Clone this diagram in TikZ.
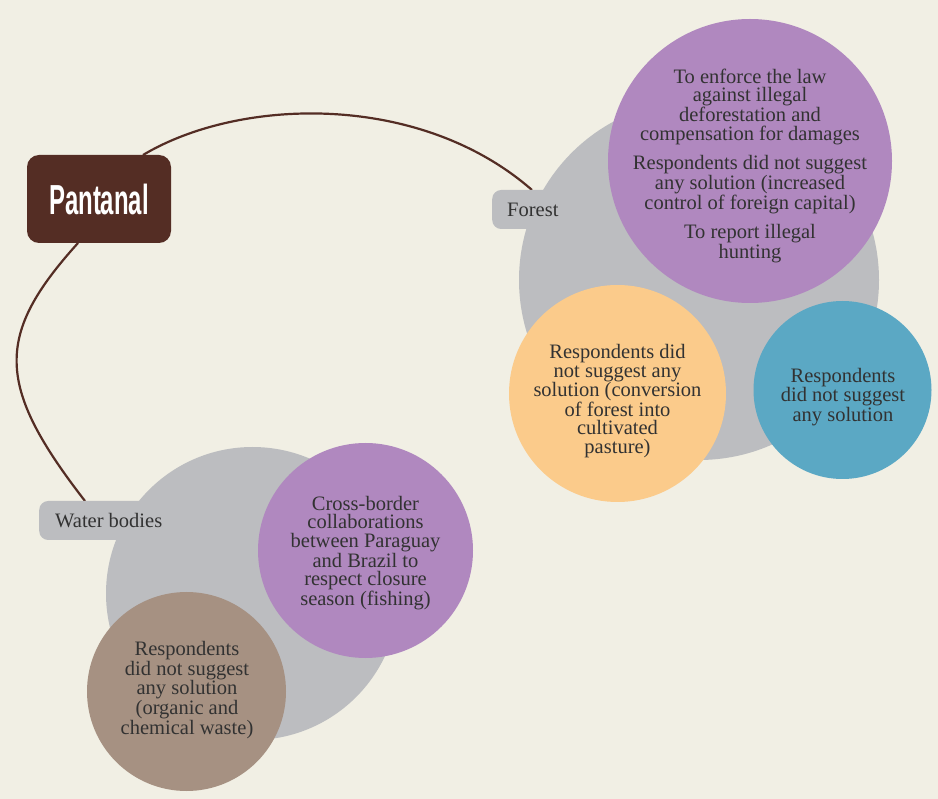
\documentclass[tikz,border=0pt]{standalone}
\usepackage{fontspec}
\setmainfont{Liberation Serif}
\newfontfamily\titlefont[FakeStretch=0.57]{Liberation Sans Bold}
\definecolor{bgc}{RGB}{241,239,228}
\definecolor{greyc}{RGB}{188,189,192}
\definecolor{purplec}{RGB}{176,136,191}
\definecolor{orangec}{RGB}{251,203,139}
\definecolor{bluec}{RGB}{91,168,196}
\definecolor{brownc}{RGB}{166,145,130}
\definecolor{darkc}{RGB}{84,45,36}
\definecolor{txtc}{RGB}{50,50,50}
\tikzset{
  bubble/.style={circle, inner sep=0pt, minimum size=#1},
  txt/.style={align=center, text=txtc, font=\fontsize{20.5}{18.4}\selectfont, inner sep=0pt},
  tag/.style={fill=greyc, rounded corners=9pt, inner sep=0pt},
  taglbl/.style={text=txtc, font=\fontsize{20.5}{18.4}\selectfont, anchor=west, inner sep=0pt},
  link/.style={draw=darkc, line width=2.2pt},
}
\begin{document}
\begin{tikzpicture}[x=1pt,y=-1pt]
\fill[bgc] (0,0) rectangle (938,799);
\useasboundingbox (0,0) rectangle (938,799);

% root
\node[fill=darkc, rounded corners=12pt, minimum width=144pt, minimum height=88pt, inner sep=0pt,
      text=white, font=\titlefont\fontsize{42}{42}\selectfont] (root) at (99,199) {Pantanal};

% connectors
\coordinate (rt) at (143,155);
\coordinate (rb) at (78,243);
\coordinate (ft) at (532,190);
\coordinate (wt) at (85,501);
\draw[link] (rt) .. controls (240,97) and (420,92) .. (ft);
\draw[link] (rb) .. controls (-5,335) and (-5,385) .. (wt);

% forest group
\node[bubble=360pt, fill=greyc] (fgrey) at (699,280) {};
\node[tag, minimum width=80pt, minimum height=39pt, anchor=west] (forest) at (492,209.5) {};
\node[taglbl] (forestlbl) at (507,209.5) {Forest};
\node[bubble=284pt, fill=purplec] (fpurple) at (750,161) {};
\node[bubble=217pt, fill=orangec] (forange) at (617.5,393.5) {};
\node[bubble=178pt, fill=bluec] (fblue) at (842.5,390) {};

\node[txt] (t1) at (750,166) {To enforce the law\\against illegal\\deforestation and\\compensation for damages\\[10pt]
Respondents did not suggest\\any solution (increased\\control of foreign capital)\\[10pt]
To report illegal\\hunting};
\node[txt] (t2) at (617.5,401) {Respondents did\\not suggest any\\solution (conversion\\of forest into\\cultivated\\pasture)};
\node[txt] (t3) at (843,397) {Respondents\\did not suggest\\any solution};

% water group
\node[bubble=293pt, fill=greyc] (wgrey) at (252.5,593.5) {};
\node[tag, minimum width=110pt, minimum height=39pt, anchor=west] (water) at (39,520.5) {};
\node[taglbl] (waterlbl) at (55,520.5) {Water bodies};
\node[bubble=215pt, fill=purplec] (wpurple) at (365.5,550.5) {};
\node[bubble=199pt, fill=brownc] (wbrown) at (186.5,691.5) {};

\node[txt] (t4) at (365.5,553) {Cross-border\\collaborations\\between Paraguay\\and Brazil to\\respect closure\\season (fishing)};
\node[txt] (t5) at (187,690) {Respondents\\did not suggest\\any solution\\(organic and\\chemical waste)};
\end{tikzpicture}
\end{document}
